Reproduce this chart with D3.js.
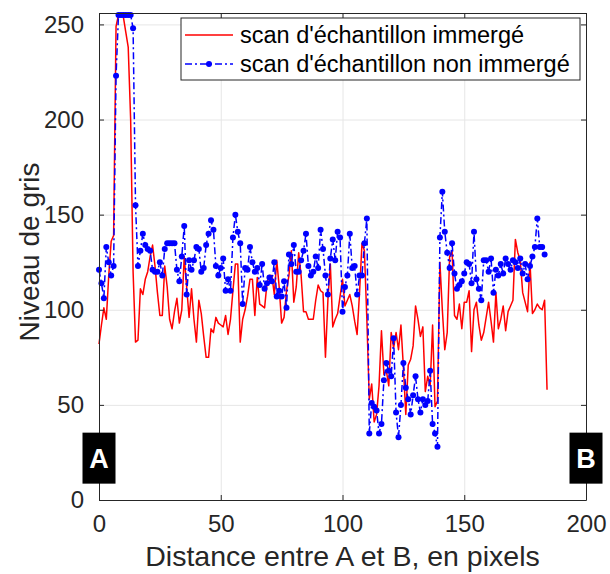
<!DOCTYPE html>
<html>
<head>
<meta charset="utf-8">
<script src="https://cdn.jsdelivr.net/npm/d3@7"></script>
<style>
  body { margin: 0; background: #fff; }
  svg { display: block; font-family: "Liberation Sans", Arial, sans-serif; }
  .grid line { stroke: #e6e6e6; stroke-width: 1; }
  .grid .domain { display: none; }
  .frame .domain, .frame line { stroke: #262626; stroke-width: 1; }
  .frame text { fill: #262626; font-size: 24px; }
</style>
</head>
<body>
<div id="chart"></div>
<script>
// niveau de gris le long du segment [A,B], un point par pixel
var immerge = [
  82, 92, 101, 95, 118, 136, 139, 249, 255, 255, 254, 246, 238, 200, 120, 83, 84, 111, 108, 116,
  120, 128, 134, 123, 109, 97, 97, 123, 112, 95, 90, 99, 106, 93, 100, 128, 112, 96, 111, 95,
  83, 105, 98, 86, 75, 75, 90, 88, 96, 93, 92, 91, 97, 87, 95, 110, 124, 124, 83, 95,
  100, 107, 116, 116, 97, 117, 103, 102, 101, 114, 118, 118, 108, 126, 112, 93, 96, 110, 118, 131,
  104, 112, 130, 118, 99, 99, 95, 95, 95, 105, 113, 110, 109, 75, 105, 124, 91, 95, 98, 107,
  116, 102, 105, 108, 102, 94, 87, 109, 135, 131, 95, 53, 61, 41, 45, 60, 89, 66, 68, 60,
  88, 80, 88, 79, 92, 70, 45, 71, 74, 81, 102, 95, 86, 91, 57, 65, 60, 92, 49, 52,
  125, 100, 79, 88, 128, 131, 97, 95, 103, 90, 104, 104, 110, 78, 100, 104, 92, 84, 88, 96,
  104, 94, 83, 109, 90, 95, 102, 89, 99, 102, 105, 137, 130, 126, 109, 104, 99, 125, 98, 100,
  103, 101, 100, 105, 58
];

var nonImmerge = [
  121, 114, 106, 133, 125, 118, 123, 223, 255, 255, 255, 255, 255, 255, 248, 155, 123, 131, 140, 134,
  132, 131, 121, 120, 120, 125, 118, 132, 135, 135, 135, 135, 121, 115, 128, 144, 108, 126, 121, 126,
  133, 132, 120, 122, 134, 140, 147, 142, 123, 118, 122, 127, 110, 116, 110, 138, 150, 141, 135, 103,
  122, 121, 133, 125, 120, 122, 113, 124, 111, 114, 117, 115, 125, 107, 110, 107, 115, 101, 129, 124,
  134, 120, 120, 126, 131, 140, 123, 118, 120, 128, 122, 142, 132, 118, 108, 127, 137, 126, 141, 138,
  99, 112, 118, 140, 122, 123, 108, 118, 118, 135, 148, 35, 51, 49, 47, 35, 40, 63, 72, 68,
  65, 85, 46, 33, 50, 72, 59, 53, 45, 55, 65, 53, 46, 53, 50, 52, 68, 40, 35, 28,
  138, 162, 141, 130, 122, 135, 119, 111, 113, 115, 119, 125, 124, 114, 141, 116, 111, 105, 126, 126,
  120, 127, 109, 121, 118, 124, 119, 127, 124, 121, 126, 125, 122, 127, 119, 124, 116, 123, 128, 133,
  148, 133, 133, 129
];

var seriesNames = ["scan d'\u00e9chantillon immerg\u00e9", "scan d'\u00e9chantillon non immerg\u00e9"];
var xTicks = [0, 50, 100, 150, 200];
var yTicks = [0, 50, 100, 150, 200, 250];
var xDomain = [0, 200];
var yDomain = [0, 256];
var endLabels = ['A', 'B'];

var width = 610, height = 574;
var margin = { top: 13, right: 24, bottom: 74, left: 99 };
var w = width - margin.left - margin.right;
var h = height - margin.top - margin.bottom;

var svg = d3.select('#chart').append('svg')
  .attr('width', width)
  .attr('height', height);

var g = svg.append('g')
  .attr('transform', 'translate(' + margin.left + ',' + margin.top + ')');

var x = d3.scaleLinear().domain(xDomain).range([0, w]);
var y = d3.scaleLinear().domain(yDomain).range([h, 0]);

// grille
g.append('g').attr('class', 'grid')
  .call(d3.axisBottom(x).tickValues(xTicks).tickSize(h).tickFormat(''));
g.append('g').attr('class', 'grid')
  .call(d3.axisLeft(y).tickValues(yTicks).tickSize(-w).tickFormat(''));

g.append('clipPath').attr('id', 'plotclip')
  .append('rect').attr('x', -4).attr('y', -4).attr('width', w + 8).attr('height', h + 4);

var line = d3.line()
  .x(function (d, i) { return x(i); })
  .y(function (d) { return y(d); });

var plot = g.append('g').attr('clip-path', 'url(#plotclip)');

plot.append('path')
  .datum(immerge)
  .attr('fill', 'none')
  .attr('stroke', '#ff0000')
  .attr('stroke-width', 1.5)
  .attr('stroke-linejoin', 'round')
  .attr('d', line);

plot.append('path')
  .datum(nonImmerge)
  .attr('fill', 'none')
  .attr('stroke', '#0000ff')
  .attr('stroke-width', 1.5)
  .attr('stroke-dasharray', '7,3,2,3')
  .attr('d', line);

plot.selectAll('circle.pt')
  .data(nonImmerge)
  .enter().append('circle')
  .attr('class', 'pt')
  .attr('cx', function (d, i) { return x(i); })
  .attr('cy', function (d) { return y(d); })
  .attr('r', 3)
  .attr('fill', '#0000ff');

// cadre et graduations
g.append('g').attr('class', 'frame')
  .attr('transform', 'translate(0,' + h + ')')
  .call(d3.axisBottom(x).tickValues(xTicks).tickSizeInner(-5).tickSizeOuter(0).tickPadding(15));
g.append('g').attr('class', 'frame')
  .call(d3.axisLeft(y).tickValues(yTicks).tickSizeInner(-5).tickSizeOuter(0).tickPadding(15));
g.append('g').attr('class', 'frame')
  .call(d3.axisTop(x).tickValues(xTicks).tickSizeInner(-5).tickSizeOuter(0).tickFormat(''));
g.append('g').attr('class', 'frame')
  .attr('transform', 'translate(' + w + ',0)')
  .call(d3.axisRight(y).tickValues(yTicks).tickSizeInner(-5).tickSizeOuter(0).tickFormat(''));

g.selectAll('.frame text').style('font-family', '"Liberation Sans", Arial, sans-serif');

// titres des axes
svg.append('text')
  .attr('x', margin.left + w / 2)
  .attr('y', 566)
  .attr('text-anchor', 'middle')
  .style('font-size', '28.5px')
  .style('fill', '#262626')
  .text('Distance entre A et B, en pixels');

svg.append('text')
  .attr('transform', 'translate(39,252) rotate(-90)')
  .attr('text-anchor', 'middle')
  .style('font-size', '28px')
  .style('fill', '#262626')
  .text('Niveau de gris');

// reperes A et B
var marks = g.selectAll('g.endmark')
  .data(endLabels)
  .enter().append('g')
  .attr('class', 'endmark')
  .attr('transform', function (d, i) {
    return 'translate(' + x(xDomain[i]) + ',' + y(22) + ')';
  });

marks.append('rect')
  .attr('x', -16.5)
  .attr('y', -25.5)
  .attr('width', 33)
  .attr('height', 51)
  .attr('fill', '#000');

marks.append('text')
  .attr('text-anchor', 'middle')
  .attr('dy', '0.36em')
  .style('font-size', '27px')
  .style('font-weight', 'bold')
  .style('fill', '#fff')
  .text(function (d) { return d; });

// legende
var legend = svg.append('g').attr('transform', 'translate(181,18)');

legend.append('rect')
  .attr('width', 399)
  .attr('height', 62)
  .attr('fill', '#fff')
  .attr('stroke', '#262626')
  .attr('stroke-width', 1);

var rows = legend.selectAll('g.row')
  .data(seriesNames)
  .enter().append('g')
  .attr('class', 'row')
  .attr('transform', function (d, i) { return 'translate(0,' + (17 + i * 29) + ')'; });

rows.append('line')
  .attr('x1', 4).attr('x2', 52)
  .attr('stroke', function (d, i) { return i === 0 ? '#ff0000' : '#0000ff'; })
  .attr('stroke-width', 1.5)
  .attr('stroke-dasharray', function (d, i) { return i === 0 ? null : '7,3,2,3'; });

rows.filter(function (d, i) { return i === 1; })
  .append('circle')
  .attr('cx', 28)
  .attr('r', 3)
  .attr('fill', '#0000ff');

rows.append('text')
  .attr('x', 59)
  .attr('dy', '0.35em')
  .style('font-size', '23.5px')
  .style('fill', '#000')
  .text(function (d) { return d; });
</script>
</body>
</html>
